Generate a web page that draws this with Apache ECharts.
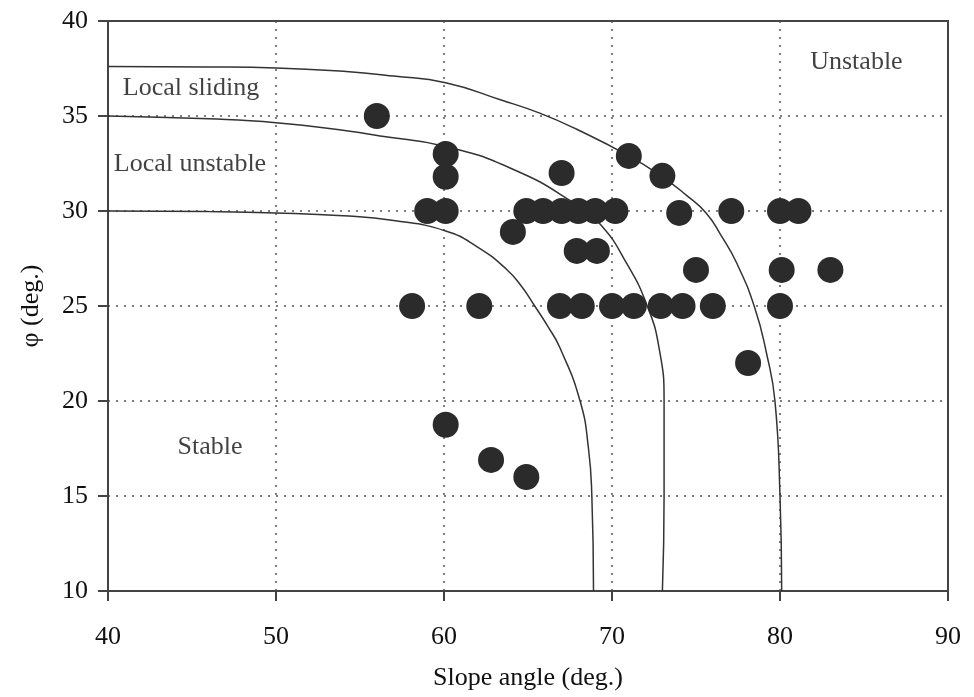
<!DOCTYPE html>
<html>
<head>
<meta charset="UTF-8">
<title>Slope angle vs friction angle</title>
<style>
  html, body { margin: 0; padding: 0; width: 100%; height: 100%; background: #fff; }
</style>
<script src="https://cdn.jsdelivr.net/npm/echarts@6/dist/echarts.min.js"></script>
</head>
<body>
<div id="main" style="width: 974px; height: 697px;"></div>
<script>
  // observed slopes: slope angle (deg.) and friction angle phi (deg.)
  var slopeAngle = [56, 60.1, 60.1, 59, 60.1, 64.9, 65.9, 67, 68, 69, 70.2, 64.1, 67, 71, 73, 74, 77.1, 80, 81.1,
                    67.9, 69.1, 75, 80.1, 83, 58.1, 62.1, 66.9, 68.2, 70, 71.3, 72.9, 74.2, 76, 80, 78.1, 60.1, 62.8, 64.9];
  var phiAngle   = [35, 33, 31.8, 30, 30, 30, 30, 30, 30, 30, 30, 28.9, 32, 32.9, 31.85, 29.9, 30, 30, 30,
                    27.9, 27.9, 26.9, 26.9, 26.9, 25, 25, 25, 25, 25, 25, 25, 25, 25, 25, 22, 18.75, 16.9, 16];

  // boundary curves
  var stableCurve = [[40, 30], [46, 29.97], [50, 29.9], [54, 29.75], [57, 29.5], [60.1, 28.95], [62, 28.1],
                     [63.7, 26.95], [64.6, 26.05], [65.4, 25], [66.2, 23.9], [66.9, 22.8], [68.1, 20], [68.6, 17.5],
                     [68.8, 15], [68.9, 10]];
  var localCurve  = [[40, 35], [46, 34.85], [50, 34.65], [54.4, 34.2], [56.2, 33.95], [60.1, 33.4], [64.1, 32.2],
                     [67.6, 30.5], [69.3, 29.3], [70.9, 27.2], [72.1, 25], [72.8, 22.8], [73.1, 20], [73.1, 15], [73, 10]];
  var slidingCurve = [[40, 37.6], [46, 37.58], [50, 37.53], [54, 37.35], [57, 37.1], [60.1, 36.75], [63.4, 35.84],
                      [65.7, 35.15], [67.9, 34.3], [71, 32.9], [73, 31.8], [74.4, 30.85], [75.6, 29.9], [76.5, 28.7],
                      [77.4, 27.3], [78.5, 24.9], [79.2, 22.5], [79.7, 20], [80, 15], [80.1, 10]];

  var regionNames = ['Local sliding', 'Local unstable', 'Unstable', 'Stable'];
  var regionAt = [[44.94, 36.47], [44.88, 32.45], [84.55, 37.84], [46.07, 17.55]];

  var serif = 'Liberation Serif';
  var ink = '#111';

  var points = slopeAngle.map(function (x, i) { return [x, phiAngle[i]]; });

  function curve(data) {
    return {
      type: 'line',
      data: data,
      smooth: 0.5,
      showSymbol: false,
      symbol: 'none',
      silent: true,
      z: 2,
      lineStyle: { color: '#333', width: 1.5 }
    };
  }

  var axisCommon = {
    type: 'value',
    nameLocation: 'middle',
    nameMoveOverlap: false,
    nameTextStyle: { fontFamily: serif, fontSize: 26, color: ink },
    axisLine: { show: true, lineStyle: { color: '#444', width: 2 } },
    axisTick: { show: true, inside: false, length: 10, lineStyle: { color: '#444', width: 2 } },
    axisLabel: { fontFamily: serif, fontSize: 26, color: ink },
    splitLine: {
      show: true,
      showMinLine: false,
      showMaxLine: false,
      lineStyle: { color: '#555', width: 1.5, type: [2, 6] }
    }
  };

  var chart = echarts.init(document.getElementById('main'));
  chart.setOption({
    backgroundColor: '#fff',
    animation: false,
    grid: { left: 108, right: 26, top: 21, bottom: 106, show: true, borderColor: '#444', borderWidth: 2 },
    xAxis: Object.assign({}, axisCommon, {
      min: 40, max: 90, interval: 10,
      name: 'Slope angle (deg.)',
      nameGap: 74,
      axisLabel: Object.assign({}, axisCommon.axisLabel, { margin: 33 })
    }),
    yAxis: Object.assign({}, axisCommon, {
      min: 10, max: 40, interval: 5,
      name: 'φ (deg.)',
      nameGap: 64,
      axisLabel: Object.assign({}, axisCommon.axisLabel, { margin: 20 })
    }),
    series: [
      curve(stableCurve),
      curve(localCurve),
      curve(slidingCurve),
      {
        type: 'scatter',
        data: points,
        symbol: 'circle',
        symbolSize: 26,
        z: 3,
        itemStyle: { color: '#2b2b2b', opacity: 1 }
      },
      {
        type: 'scatter',
        symbolSize: 0,
        silent: true,
        z: 4,
        data: regionNames.map(function (n, i) { return { name: n, value: regionAt[i] }; }),
        label: {
          show: true,
          position: 'inside',
          formatter: '{b}',
          fontFamily: serif,
          fontSize: 26,
          color: ink
        }
      }
    ]
  });
</script>
</body>
</html>
